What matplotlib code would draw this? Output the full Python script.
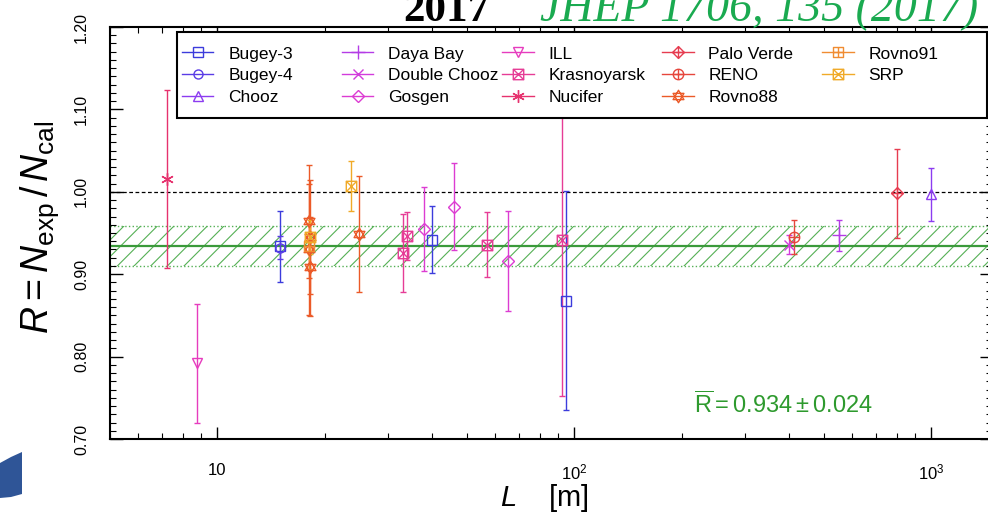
import numpy as np
import matplotlib
matplotlib.use('Agg')
import matplotlib.pyplot as plt
from matplotlib.path import Path
from matplotlib.lines import Line2D
from matplotlib.legend import Legend
from matplotlib.patches import Polygon, Rectangle

plt.rcParams['font.family'] = ['Liberation Sans', 'DejaVu Sans']
plt.rcParams['mathtext.fontset'] = 'custom'
plt.rcParams['mathtext.rm'] = 'Liberation Sans'
plt.rcParams['mathtext.it'] = 'Liberation Sans:italic'
plt.rcParams['mathtext.bf'] = 'Liberation Sans:bold'
plt.rcParams['hatch.linewidth'] = 0.8

#%% reactor rates: baseline L [m], ratio R and its error, one list per experiment
experiments = ['Bugey-3', 'Bugey-4', 'Chooz', 'Daya Bay', 'Double Chooz', 'Gosgen',
               'ILL', 'Krasnoyarsk', 'Nucifer', 'Palo Verde', 'RENO', 'Rovno88',
               'Rovno91', 'SRP']
baseline = [[15, 40, 95], [15], [1000], [552], [400], [38, 46, 65],
            [8.76], [33, 34, 57, 92], [7.2], [800], [411],
            [18.0, 18.0, 18.2, 18.2, 24.9], [18.0], [18.2, 23.7]]
ratio = [[0.934, 0.942, 0.868], [0.932], [0.997], [0.947], [0.936], [0.955, 0.982, 0.916],
         [0.792], [0.926, 0.946, 0.936, 0.942], [1.015], [0.998], [0.945],
         [0.964, 0.930, 0.909, 0.945, 0.949], [0.934], [0.945, 1.007]]
ratio_err = [[0.043, 0.041, 0.133], [0.014], [0.032], [0.019], [0.012], [0.051, 0.053, 0.061],
             [0.072], [0.047, 0.029, 0.040, 0.190], [0.108], [0.054], [0.021],
             [0.069, 0.080, 0.060, 0.069, 0.070], [0.028], [0.021, 0.030]]

R_mean = 0.934
R_mean_err = 0.024

colors = ['#3c3cdc', '#5a3ce6', '#8c3cf0', '#b43ce6', '#d23cdc', '#dc3cd2',
          '#e63cbe', '#e63c96', '#e6326e', '#e63c50', '#e6463c', '#eb5a28',
          '#f08c32', '#f0aa28']

#%% open ROOT-like markers
M, L_ = Path.MOVETO, Path.LINETO
def boxed(kind):
    verts = [(-1, -1), (1, -1), (1, 1), (-1, 1), (-1, -1)]
    codes = [M, L_, L_, L_, Path.CLOSEPOLY]
    if kind == 'x':
        verts += [(-1, -1), (1, 1), (-1, 1), (1, -1)]
    else:
        verts += [(0, -1), (0, 1), (-1, 0), (1, 0)]
    codes += [M, L_, M, L_]
    return Path(verts, codes)

cross = Path([(0, -1), (0, 1), (-1, 0), (1, 0)], [M, L_, M, L_])
diamond_plus = Path.make_compound_path(
    Path([(0, -1), (1, 0), (0, 1), (-1, 0), (0, -1)], [M, L_, L_, L_, Path.CLOSEPOLY]), cross)
circle_plus = Path.make_compound_path(Path.unit_circle(), cross)
david = Path([(0, 1), (-0.866, -0.5), (0.866, -0.5), (0, 1),
              (0, -1), (0.866, 0.5), (-0.866, 0.5), (0, -1)],
             [M, L_, L_, Path.CLOSEPOLY, M, L_, L_, Path.CLOSEPOLY])

markers = ['s', 'o', '^', '+', 'x', 'D', 'v', boxed('x'), (6, 2, 0),
           diamond_plus, circle_plus, david, boxed('+'), boxed('x')]
sizes = [6.5, 6.5, 7.5, 10, 7, 6.5, 7.5, 7.5, 9, 8.5, 7.5, 9, 7.5, 7.5]

#%%
fig = plt.figure(figsize=(9.88, 5.14), dpi=100)
ax = fig.add_axes([110/988, 75/514, 882/988, 412/514])

ax.set_xscale('log')
ax.set_xlim(5.0, 1478)
ax.set_ylim(0.70, 1.20)

# average band
ax.axhspan(R_mean - R_mean_err, R_mean + R_mean_err, facecolor='none',
           edgecolor='#55b055', hatch='//', linewidth=0, zorder=1)
for yb in (R_mean - R_mean_err, R_mean + R_mean_err):
    ax.axhline(yb, color='#55b055', lw=1.0, ls=':', zorder=1)
ax.axhline(R_mean, color='#3a9a3a', lw=1.6, zorder=2)
ax.axhline(1.0, color='black', lw=0.9, ls=(0, (3, 2)), zorder=2)

handles = []
for name, x, y, e, c, m, s in zip(experiments, baseline, ratio, ratio_err, colors, markers, sizes):
    ax.errorbar(x, y, yerr=e, fmt='none', ecolor=c, elinewidth=1.0, capsize=2, capthick=1.0, zorder=3)
    ax.plot(x, y, ls='none', marker=m, ms=s, mfc='none', mec=c, mew=1.0, zorder=4)
    handles.append(Line2D([], [], color=c, lw=1.0, marker=m, ms=s, mfc='none', mec=c, mew=1.0))

# legend: framed box, five fixed-width columns of three rows
ax.add_patch(Rectangle((0.0761, 0.7791), 0.9182, 0.2088, transform=ax.transAxes,
                       facecolor='white', edgecolor='black', lw=1.5, zorder=5, clip_on=False))
for j in range(5):
    leg = Legend(ax, handles[3*j:3*j+3], experiments[3*j:3*j+3], loc='upper left',
                 bbox_to_anchor=(0.0818 + j*0.1815, 0.953), frameon=False,
                 fontsize=12.5, handlelength=1.8, handletextpad=0.85, labelspacing=0.38,
                 borderaxespad=0.0, borderpad=0.0)
    leg.set_zorder(6)
    ax.add_artist(leg)

ax.text(0.6625, 0.0825, r'$\overline{\mathrm{R}} = 0.934 \pm 0.024$',
        transform=ax.transAxes, color='#2e9a2e', fontsize=17, va='center', ha='left')

# ticks
ax.set_xticks([10, 100, 1000])
ax.set_xticklabels(['10', r'$10^{2}$', r'$10^{3}$'])
ax.set_yticks(np.arange(0.70, 1.201, 0.10))
ax.set_yticklabels(['0.70', '0.80', '0.90', '1.00', '1.10', '1.20'])
ax.set_yticks(np.arange(0.70, 1.2001, 0.01), minor=True)
ax.tick_params(which='both', direction='in', top=True, right=True)
ax.tick_params(which='major', length=9, width=1.0)
ax.tick_params(which='minor', length=4.5, width=0.8)
ax.tick_params(axis='x', which='major', labelsize=12, pad=17)
ax.tick_params(axis='y', which='major', labelsize=11.5, labelrotation=90, pad=15)
for lab in ax.get_yticklabels():
    lab.set_va('center')
for sp in ax.spines.values():
    sp.set_linewidth(1.5)

ax.set_xlabel(r'$L$    [m]', fontsize=21)
ax.xaxis.set_label_coords(0.493, -0.104)
ax.set_ylabel(r'$R = N_{\mathrm{exp}}\,/\,N_{\mathrm{cal}}$', fontsize=27)
ax.yaxis.set_label_coords(-0.055, 0.515)

# slide header, running off the top edge
fig.text(403/988, 1 - 21/514, '2017', fontsize=31, fontweight='bold',
         family='Liberation Serif', color='black', va='baseline')
fig.text(540/988, 1 - 21/514, 'JHEP 1706, 135 (2017)', fontsize=33, style='italic',
         family='Liberation Serif', color='#1aaa50', va='baseline')

# slide decoration
px = np.array([0, 11, 22, 22, 11, 0]) / 988
py = 1 - np.array([463, 457, 452, 494, 497, 498]) / 514
fig.patches.append(Polygon(np.column_stack([px, py]), closed=True, transform=fig.transFigure,
                           facecolor='#2f5597', edgecolor='none'))

fig.savefig('out.png', dpi=100)
